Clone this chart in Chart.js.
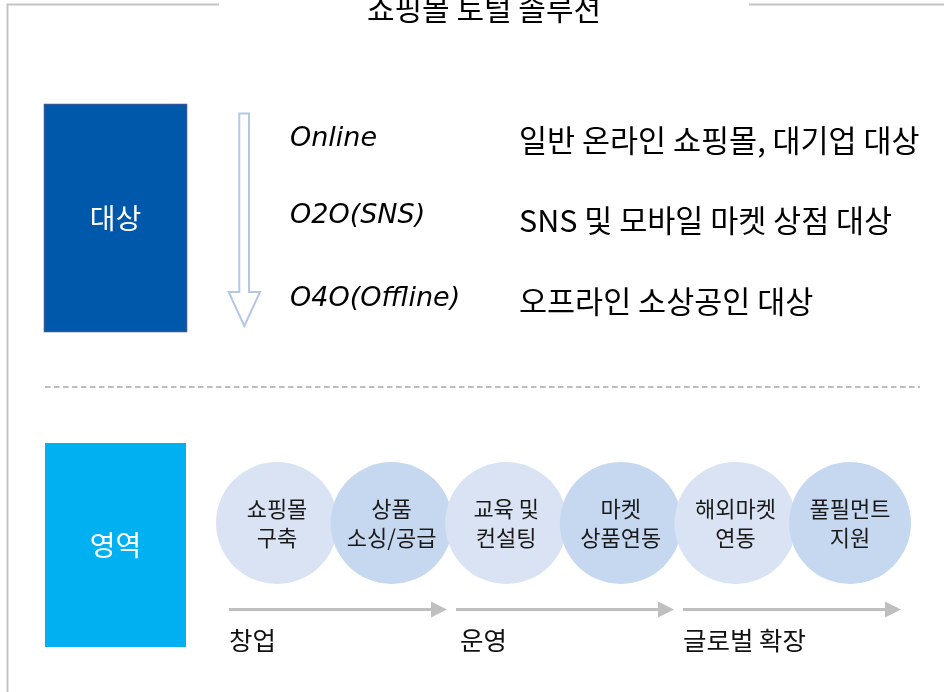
<!DOCTYPE html>
<html>
<head>
<meta charset="utf-8">
<script src="https://cdn.jsdelivr.net/npm/chart.js@4.4.0/dist/chart.umd.min.js"></script>
<style>
html,body{margin:0;padding:0;background:#fff;}
#wrap{width:944px;height:692px;}
</style>
</head>
<body>
<div id="wrap"><canvas id="c" width="944" height="692"></canvas></div>
<script>
// ---- data ----
const titleText = '쇼핑몰 토털 솔루션';
const sectionLabels = ['대상', '영역'];
const channelNames = ['Online', 'O2O(SNS)', 'O4O(Offline)'];
const channelDescs = ['일반 온라인 쇼핑몰, 대기업 대상', 'SNS 및 모바일 마켓 상점 대상', '오프라인 소상공인 대상'];
const serviceLines1 = ['쇼핑몰', '상품', '교육 및', '마켓', '해외마켓', '풀필먼트'];
const serviceLines2 = ['구축', '소싱/공급', '컨설팅', '상품연동', '연동', '지원'];
const phaseLabels = ['창업', '운영', '글로벌 확장'];

// ---- layout (pixel units on a 944 x 692 linear grid) ----
const W = 944, H = 692;
const KR = '"Noto Sans CJK KR", "Noto Sans", sans-serif';
const circleStart = 277, circleStep = 114.6, circleY = 523, circleR = 61;
const circleColors = ['#DAE3F3', '#C6D8F0'];
const rowY = [139, 216, 299];
const descY = [140, 220, 301];
const phaseStart = 229, phaseStep = 227, phaseLen = 218, phaseY = 609.5;

const bubbleData = serviceLines1.map((_, i) => ({x: circleStart + i * circleStep, y: circleY, r: circleR}));

const infographic = {
  id: 'infographic',
  beforeDatasetsDraw(chart) {
    const ctx = chart.ctx;
    const xs = chart.scales.x, ys = chart.scales.y;
    const X = v => xs.getPixelForValue(v), Y = v => ys.getPixelForValue(v);
    ctx.save();
    // frame
    ctx.strokeStyle = '#C3C3C3';
    ctx.lineWidth = 2;
    ctx.beginPath();
    ctx.moveTo(X(219), Y(4.5)); ctx.lineTo(X(7.5), Y(4.5)); ctx.lineTo(X(7.5), Y(H));
    ctx.moveTo(X(749), Y(4.5)); ctx.lineTo(X(W), Y(4.5));
    ctx.stroke();
    // title
    ctx.fillStyle = '#000';
    ctx.font = '30px ' + KR;
    ctx.textAlign = 'center';
    ctx.textBaseline = 'middle';
    ctx.fillText(titleText, X(484), Y(9));
    // section boxes
    ctx.fillStyle = '#0058AA';
    ctx.fillRect(X(44), Y(104), X(187) - X(44), Y(332) - Y(104));
    ctx.strokeStyle = '#2F5597';
    ctx.lineWidth = 1.5;
    ctx.strokeRect(X(44.5), Y(104.5), X(186.5) - X(44.5), Y(331.5) - Y(104.5));
    ctx.fillStyle = '#00B0F0';
    ctx.fillRect(X(45), Y(443), X(186) - X(45), Y(647) - Y(443));
    ctx.fillStyle = '#fff';
    ctx.font = '28px ' + KR;
    ctx.fillText(sectionLabels[0], X(115.5), Y(218));
    ctx.fillText(sectionLabels[1], X(115.5), Y(545));
    // hollow down arrow
    ctx.beginPath();
    ctx.moveTo(X(239.3), Y(113.5));
    ctx.lineTo(X(249), Y(113.5));
    ctx.lineTo(X(249), Y(292));
    ctx.lineTo(X(260), Y(292));
    ctx.lineTo(X(244.3), Y(326));
    ctx.lineTo(X(228.7), Y(292));
    ctx.lineTo(X(239.3), Y(292));
    ctx.closePath();
    ctx.fillStyle = '#fff';
    ctx.fill();
    ctx.strokeStyle = '#B4C7E7';
    ctx.lineWidth = 2;
    ctx.stroke();
    // channels
    ctx.textAlign = 'left';
    ctx.fillStyle = '#000';
    ctx.font = 'oblique 27px "DejaVu Sans", sans-serif';
    channelNames.forEach((t, i) => ctx.fillText(t, X(290), Y(rowY[i])));
    ctx.fillStyle = '#000';
    ctx.font = '30.5px ' + KR;
    channelDescs.forEach((t, i) => ctx.fillText(t, X(519), Y(descY[i])));
    // dashed separator
    ctx.setLineDash([5.5, 3.5]);
    ctx.strokeStyle = '#A6A6A6';
    ctx.lineWidth = 1.3;
    ctx.beginPath();
    ctx.moveTo(X(45), Y(387)); ctx.lineTo(X(920), Y(387));
    ctx.stroke();
    ctx.setLineDash([]);
    // phase arrows
    ctx.strokeStyle = '#BFBFBF';
    ctx.fillStyle = '#BFBFBF';
    ctx.lineWidth = 3;
    phaseLabels.forEach((t, i) => {
      const x0 = phaseStart + i * phaseStep, x1 = x0 + phaseLen;
      ctx.beginPath();
      ctx.moveTo(X(x0), Y(phaseY)); ctx.lineTo(X(x1 - 12), Y(phaseY));
      ctx.stroke();
      ctx.beginPath();
      ctx.moveTo(X(x1 - 16), Y(phaseY - 8));
      ctx.lineTo(X(x1), Y(phaseY));
      ctx.lineTo(X(x1 - 16), Y(phaseY + 8));
      ctx.closePath();
      ctx.fill();
    });
    ctx.fillStyle = '#111';
    ctx.font = '25.5px ' + KR;
    phaseLabels.forEach((t, i) => ctx.fillText(t, X(phaseStart + i * phaseStep + (i === 1 ? 4 : 0)), Y(640)));
    ctx.restore();
  },
  afterDatasetsDraw(chart) {
    const ctx = chart.ctx;
    const meta = chart.getDatasetMeta(0);
    ctx.save();
    ctx.fillStyle = '#1a1a1a';
    ctx.font = '22px ' + KR;
    ctx.textAlign = 'center';
    ctx.textBaseline = 'middle';
    meta.data.forEach((el, i) => {
      ctx.fillText(serviceLines1[i], el.x, el.y - 14);
      ctx.fillText(serviceLines2[i], el.x, el.y + 15);
    });
    ctx.restore();
  }
};

new Chart(document.getElementById('c'), {
  type: 'bubble',
  data: {
    datasets: [{
      data: bubbleData,
      backgroundColor: bubbleData.map((_, i) => circleColors[i % 2]),
      borderWidth: 0,
      hoverRadius: 0
    }]
  },
  options: {
    responsive: false,
    animation: false,
    devicePixelRatio: 1,
    events: [],
    layout: {padding: 0, autoPadding: false},
    plugins: {legend: {display: false}, tooltip: {enabled: false}, title: {display: false}},
    scales: {
      x: {type: 'linear', min: 0, max: W, display: false},
      y: {type: 'linear', min: 0, max: H, reverse: true, display: false}
    }
  },
  plugins: [infographic]
});
</script>
</body>
</html>
